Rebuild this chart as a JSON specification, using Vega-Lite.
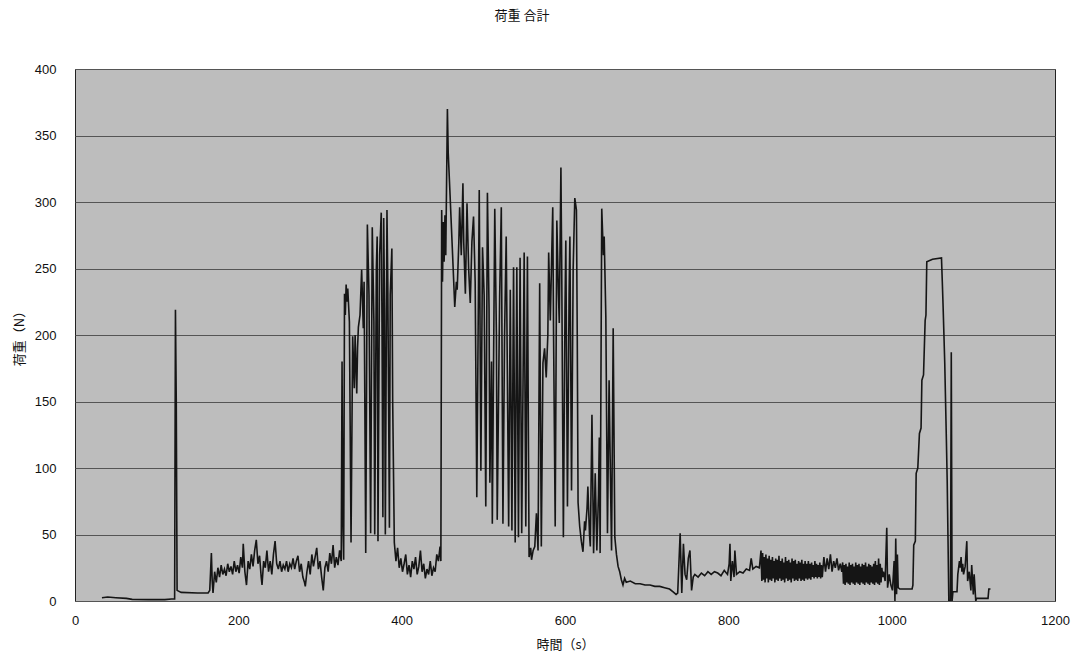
{
  "$schema": "https://vega.github.io/schema/vega-lite/v6.json",
  "width": 980,
  "height": 532,
  "autosize": "none",
  "padding": {"left": 75, "top": 69, "right": 20, "bottom": 58},
  "background": "#ffffff",
  "title": {"text": "荷重 合計", "font": "Noto Sans CJK JP", "fontSize": 13, "fontWeight": "normal", "color": "#111", "anchor": "middle", "dx": -43, "offset": 40},
  "data": {"values": [
    {"t":33,"v":2.5},{"t":40,"v":3},{"t":50,"v":2.5},{"t":63,"v":2},{"t":70,"v":1.2},{"t":90,"v":1},{"t":110,"v":1},{"t":118,"v":1.5},{"t":122,"v":1.5},{"t":123,"v":219},{"t":124,"v":150},{"t":125,"v":8},{"t":130,"v":6.5},{"t":150,"v":6},{"t":163,"v":6},
    {"t":165,"v":8},{"t":166,"v":22},{"t":167,"v":36},{"t":168,"v":15},{"t":169,"v":6},{"t":171,"v":22},{"t":173,"v":14},{"t":175,"v":25},{"t":177,"v":18},{"t":179,"v":27},{"t":181,"v":20},{"t":183,"v":24},{"t":185,"v":19},{"t":187,"v":28},{"t":189,"v":22},{"t":191,"v":26},{"t":193,"v":20},{"t":195,"v":30},{"t":197,"v":22},{"t":199,"v":27},{"t":201,"v":21},{"t":203,"v":33},{"t":205,"v":25},{"t":206,"v":43},{"t":208,"v":22},{"t":210,"v":12},{"t":212,"v":30},{"t":214,"v":24},{"t":216,"v":35},{"t":218,"v":26},{"t":220,"v":38},{"t":222,"v":46},{"t":224,"v":28},{"t":226,"v":34},{"t":228,"v":18},{"t":229,"v":12},{"t":231,"v":30},{"t":233,"v":25},{"t":235,"v":38},{"t":237,"v":22},{"t":239,"v":30},{"t":241,"v":20},{"t":243,"v":35},{"t":245,"v":45},{"t":247,"v":28},{"t":249,"v":24},{"t":251,"v":30},{"t":253,"v":22},{"t":255,"v":27},{"t":257,"v":24},{"t":259,"v":30},{"t":261,"v":22},{"t":263,"v":28},{"t":265,"v":25},{"t":267,"v":32},{"t":269,"v":24},{"t":271,"v":30},{"t":273,"v":34},{"t":275,"v":22},{"t":277,"v":28},{"t":279,"v":18},{"t":281,"v":14},{"t":282,"v":11},{"t":284,"v":22},{"t":286,"v":30},{"t":288,"v":20},{"t":290,"v":35},{"t":292,"v":26},{"t":294,"v":33},{"t":296,"v":40},{"t":298,"v":24},{"t":300,"v":30},{"t":302,"v":18},{"t":304,"v":8},{"t":306,"v":25},{"t":308,"v":30},{"t":310,"v":22},{"t":312,"v":36},{"t":314,"v":28},{"t":316,"v":42},{"t":318,"v":25},{"t":320,"v":33},{"t":322,"v":27},{"t":324,"v":38},{"t":326,"v":30},
    {"t":327,"v":180},{"t":328,"v":60},{"t":329,"v":31},{"t":330,"v":231},{"t":331,"v":215},{"t":332,"v":238},{"t":333,"v":225},{"t":334,"v":235},{"t":336,"v":210},{"t":338,"v":44},{"t":340,"v":199},{"t":342,"v":160},{"t":343,"v":200},{"t":345,"v":156},{"t":346,"v":190},{"t":347,"v":206},{"t":349,"v":215},{"t":351,"v":249},{"t":353,"v":205},{"t":354,"v":240},{"t":356,"v":36},{"t":358,"v":283},{"t":360,"v":230},{"t":362,"v":51},{"t":364,"v":281},{"t":366,"v":210},{"t":367,"v":50},{"t":369,"v":250},{"t":370,"v":274},{"t":371,"v":45},{"t":373,"v":260},{"t":375,"v":292},{"t":376,"v":200},{"t":377,"v":63},{"t":378,"v":288},{"t":379,"v":220},{"t":380,"v":50},{"t":382,"v":294},{"t":383,"v":240},{"t":385,"v":55},{"t":386,"v":230},{"t":388,"v":265},{"t":389,"v":150},{"t":391,"v":44},
    {"t":393,"v":30},{"t":395,"v":40},{"t":397,"v":25},{"t":399,"v":32},{"t":401,"v":22},{"t":403,"v":28},{"t":405,"v":35},{"t":407,"v":20},{"t":409,"v":27},{"t":411,"v":18},{"t":413,"v":30},{"t":415,"v":24},{"t":417,"v":33},{"t":419,"v":20},{"t":421,"v":26},{"t":423,"v":38},{"t":425,"v":22},{"t":427,"v":28},{"t":429,"v":17},{"t":431,"v":24},{"t":433,"v":20},{"t":435,"v":30},{"t":437,"v":19},{"t":439,"v":25},{"t":441,"v":22},{"t":443,"v":35},{"t":445,"v":30},{"t":447,"v":41},{"t":448,"v":30},
    {"t":449,"v":294},{"t":450,"v":240},{"t":451,"v":285},{"t":452,"v":255},{"t":453,"v":290},{"t":454,"v":260},{"t":456,"v":370},{"t":457,"v":337},{"t":459,"v":309},{"t":461,"v":280},{"t":463,"v":251},{"t":465,"v":221},{"t":467,"v":240},{"t":468,"v":234},{"t":470,"v":270},{"t":471,"v":296},{"t":473,"v":260},{"t":475,"v":314},{"t":476,"v":270},{"t":478,"v":231},{"t":480,"v":299},{"t":482,"v":250},{"t":484,"v":224},{"t":486,"v":270},{"t":488,"v":289},{"t":490,"v":240},{"t":492,"v":78},{"t":495,"v":309},{"t":497,"v":98},{"t":499,"v":266},{"t":501,"v":230},{"t":503,"v":71},{"t":505,"v":307},{"t":507,"v":220},{"t":508,"v":89},{"t":510,"v":180},{"t":511,"v":58},{"t":514,"v":295},{"t":516,"v":200},{"t":517,"v":61},{"t":520,"v":230},{"t":522,"v":296},{"t":524,"v":58},{"t":526,"v":200},{"t":528,"v":274},{"t":531,"v":56},{"t":533,"v":234},{"t":535,"v":53},{"t":537,"v":251},{"t":539,"v":44},{"t":541,"v":251},{"t":543,"v":48},{"t":545,"v":258},{"t":547,"v":51},{"t":550,"v":262},{"t":552,"v":56},{"t":554,"v":259},{"t":556,"v":33},{"t":558,"v":40},{"t":559,"v":31},{"t":561,"v":38},{"t":563,"v":41},{"t":565,"v":66},{"t":567,"v":38},{"t":569,"v":239},{"t":571,"v":41},{"t":573,"v":179},{"t":575,"v":190},{"t":577,"v":168},{"t":579,"v":200},{"t":580,"v":262},{"t":582,"v":211},{"t":585,"v":296},{"t":586,"v":200},{"t":588,"v":56},{"t":590,"v":286},{"t":592,"v":230},{"t":593,"v":209},{"t":595,"v":326},{"t":596,"v":250},{"t":598,"v":48},{"t":600,"v":220},{"t":601,"v":271},{"t":603,"v":71},{"t":605,"v":230},{"t":606,"v":274},{"t":608,"v":83},{"t":610,"v":250},{"t":612,"v":303},{"t":614,"v":294},{"t":615,"v":200},{"t":616,"v":74},{"t":618,"v":56},{"t":620,"v":45},{"t":622,"v":37},{"t":624,"v":60},{"t":625,"v":53},{"t":627,"v":70},{"t":628,"v":86},{"t":630,"v":50},{"t":631,"v":41},{"t":633,"v":140},{"t":635,"v":36},{"t":637,"v":96},{"t":639,"v":38},{"t":641,"v":80},{"t":642,"v":123},{"t":643,"v":36},{"t":645,"v":295},{"t":647,"v":260},{"t":648,"v":274},{"t":650,"v":214},{"t":652,"v":51},{"t":654,"v":166},{"t":655,"v":120},{"t":657,"v":38},{"t":659,"v":205},{"t":661,"v":48},{"t":663,"v":35},{"t":665,"v":26},{"t":667,"v":22},{"t":669,"v":16},{"t":671,"v":12},{"t":673,"v":17},{"t":675,"v":14},
    {"t":680,"v":15},{"t":686,"v":13},{"t":692,"v":13},{"t":698,"v":12},{"t":704,"v":12},{"t":710,"v":11},{"t":716,"v":11},{"t":722,"v":10},{"t":728,"v":9},{"t":732,"v":7},{"t":736,"v":5},{"t":738,"v":6},
    {"t":741,"v":51},{"t":743,"v":6},{"t":745,"v":43},{"t":747,"v":20},{"t":749,"v":16},{"t":751,"v":32},{"t":753,"v":38},{"t":755,"v":8},{"t":757,"v":18},{"t":759,"v":20},{"t":763,"v":18},{"t":767,"v":21},{"t":771,"v":19},{"t":775,"v":22},{"t":779,"v":20},{"t":783,"v":22},{"t":787,"v":21},{"t":791,"v":19},{"t":795,"v":23},{"t":799,"v":20},{"t":801,"v":28},{"t":802,"v":43},{"t":803,"v":15},{"t":805,"v":30},{"t":807,"v":18},{"t":808,"v":38},{"t":810,"v":20},{"t":814,"v":22},{"t":818,"v":21},{"t":822,"v":24},{"t":826,"v":23},{"t":828,"v":32},{"t":830,"v":24},{"t":834,"v":26},{"t":838,"v":25},
    {"t":840,"v":38},{"t":841,"v":15},{"t":842,"v":36},{"t":843,"v":16},{"t":844,"v":33},{"t":845,"v":14},{"t":846,"v":35},{"t":847,"v":17},{"t":848,"v":32},{"t":849,"v":14},{"t":850,"v":34},{"t":851,"v":16},{"t":852,"v":31},{"t":853,"v":15},{"t":854,"v":33},{"t":855,"v":17},{"t":856,"v":30},{"t":857,"v":14},{"t":858,"v":32},{"t":859,"v":16},{"t":860,"v":31},{"t":861,"v":15},{"t":862,"v":34},{"t":863,"v":17},{"t":864,"v":30},{"t":865,"v":15},{"t":866,"v":32},{"t":867,"v":16},{"t":868,"v":29},{"t":869,"v":14},{"t":870,"v":33},{"t":871,"v":17},{"t":872,"v":30},{"t":873,"v":15},{"t":874,"v":31},{"t":875,"v":16},{"t":876,"v":29},{"t":877,"v":14},{"t":878,"v":32},{"t":879,"v":17},{"t":880,"v":30},{"t":881,"v":15},{"t":882,"v":31},{"t":883,"v":16},{"t":884,"v":28},{"t":885,"v":15},{"t":886,"v":30},{"t":887,"v":17},{"t":888,"v":29},{"t":889,"v":15},{"t":890,"v":31},{"t":891,"v":16},{"t":892,"v":28},{"t":893,"v":15},{"t":894,"v":30},{"t":895,"v":17},{"t":896,"v":28},{"t":897,"v":16},{"t":898,"v":30},{"t":899,"v":17},{"t":900,"v":28},{"t":901,"v":16},{"t":902,"v":29},{"t":903,"v":18},{"t":904,"v":27},{"t":905,"v":17},{"t":906,"v":30},{"t":907,"v":18},{"t":908,"v":28},{"t":909,"v":17},{"t":910,"v":27},{"t":911,"v":18},{"t":912,"v":29},{"t":913,"v":17},{"t":914,"v":27},{"t":915,"v":18},{"t":917,"v":33},{"t":919,"v":22},{"t":921,"v":32},{"t":923,"v":24},{"t":925,"v":35},{"t":927,"v":22},{"t":929,"v":30},{"t":931,"v":25},{"t":933,"v":32},{"t":935,"v":23},{"t":937,"v":28},{"t":939,"v":22},{"t":940,"v":29},{"t":941,"v":13},{"t":942,"v":27},{"t":943,"v":12},{"t":944,"v":28},{"t":945,"v":14},{"t":946,"v":26},{"t":947,"v":13},{"t":948,"v":29},{"t":949,"v":12},{"t":950,"v":27},{"t":951,"v":14},{"t":952,"v":28},{"t":953,"v":13},{"t":954,"v":26},{"t":955,"v":12},{"t":956,"v":29},{"t":957,"v":14},{"t":958,"v":27},{"t":959,"v":13},{"t":960,"v":28},{"t":961,"v":12},{"t":962,"v":26},{"t":963,"v":14},{"t":964,"v":28},{"t":965,"v":13},{"t":966,"v":27},{"t":967,"v":12},{"t":968,"v":29},{"t":969,"v":14},{"t":970,"v":26},{"t":971,"v":13},{"t":972,"v":28},{"t":973,"v":12},{"t":974,"v":27},{"t":975,"v":14},{"t":976,"v":26},{"t":977,"v":13},{"t":978,"v":28},{"t":979,"v":12},{"t":980,"v":30},{"t":981,"v":14},{"t":982,"v":27},{"t":983,"v":13},{"t":984,"v":32},{"t":985,"v":12},{"t":986,"v":28},{"t":987,"v":14},{"t":988,"v":25},{"t":989,"v":18},{"t":990,"v":22},
    {"t":992,"v":15},{"t":994,"v":55},{"t":995,"v":10},{"t":997,"v":20},{"t":999,"v":12},{"t":1001,"v":8},{"t":1003,"v":30},{"t":1004,"v":0},{"t":1005,"v":47},{"t":1006,"v":5},{"t":1007,"v":35},{"t":1008,"v":10},{"t":1010,"v":9},{"t":1015,"v":9},{"t":1020,"v":9},{"t":1025,"v":9},{"t":1026,"v":12},
    {"t":1027,"v":42},{"t":1029,"v":45},{"t":1030,"v":96},{"t":1032,"v":100},{"t":1034,"v":126},{"t":1036,"v":130},{"t":1037,"v":166},{"t":1039,"v":170},{"t":1041,"v":211},{"t":1042,"v":215},{"t":1043,"v":255},{"t":1050,"v":257},{"t":1061,"v":258},{"t":1062,"v":240},{"t":1063,"v":221},{"t":1064,"v":200},{"t":1065,"v":179},{"t":1066,"v":150},{"t":1067,"v":121},{"t":1068,"v":90},{"t":1069,"v":46},{"t":1070,"v":0},{"t":1072,"v":0},{"t":1073,"v":187},{"t":1074,"v":0},{"t":1075,"v":7},{"t":1080,"v":7},{"t":1081,"v":20},{"t":1083,"v":30},{"t":1084,"v":25},{"t":1085,"v":33},{"t":1086,"v":22},{"t":1087,"v":28},{"t":1088,"v":20},{"t":1090,"v":26},{"t":1092,"v":45},{"t":1093,"v":15},{"t":1095,"v":22},{"t":1097,"v":8},{"t":1098,"v":27},{"t":1100,"v":5},{"t":1101,"v":20},{"t":1103,"v":0},{"t":1104,"v":2},{"t":1118,"v":2},{"t":1119,"v":9},{"t":1121,"v":9}
  ]},
  "mark": {"type": "line", "color": "#151515", "strokeWidth": 1.6, "clip": true},
  "encoding": {
    "x": {"field": "t", "type": "quantitative", "scale": {"domain": [0, 1200], "nice": false},
      "axis": {"values": [0, 200, 400, 600, 800, 1000, 1200], "format": "d", "labelFlush": false, "grid": false, "ticks": false, "domain": false, "labelPadding": 13, "title": "時間（s）", "titlePadding": 11}},
    "y": {"field": "v", "type": "quantitative", "scale": {"domain": [0, 400], "nice": false},
      "axis": {"values": [0, 50, 100, 150, 200, 250, 300, 350, 400], "format": "d", "grid": true, "ticks": false, "domain": false, "labelPadding": 19, "title": "荷重（N）", "titlePadding": 8}}
  },
  "config": {
    "view": {"fill": "#bdbdbd", "stroke": "#222222", "strokeWidth": 1},
    "axis": {"labelFont": "Liberation Sans", "labelFontSize": 13, "labelColor": "#111111", "titleFont": "Noto Sans CJK JP", "titleFontSize": 13, "titleFontWeight": "normal", "titleColor": "#111111", "gridColor": "#555555", "gridWidth": 1, "gridOpacity": 1}
  }
}
